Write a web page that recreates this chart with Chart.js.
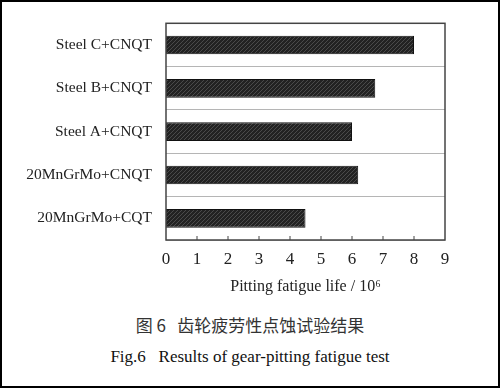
<!DOCTYPE html>
<html>
<head>
<meta charset="utf-8">
<script src="https://cdn.jsdelivr.net/npm/chart.js@4/dist/chart.umd.min.js"></script>
<style>
  html,body{margin:0;padding:0;background:#fff;}
  #frame{position:relative;width:500px;height:388px;box-sizing:border-box;border:2px solid #000;overflow:hidden;}
  #wrap{position:absolute;left:-2px;top:-2px;width:500px;height:300px;}
  .cap{position:absolute;left:0;width:496px;text-align:center;white-space:pre;}
  #cn{top:310px;font-family:"Noto Sans CJK SC",sans-serif;font-size:17px;color:#333;}
  #en{top:345px;font-family:"Liberation Serif","Times New Roman",serif;font-size:17px;color:#111;}
</style>
</head>
<body>
<div id="frame">
  <div id="wrap"><canvas id="c"></canvas></div>
  <div class="cap" id="cn">图 6   齿轮疲劳性点蚀试验结果</div>
  <div class="cap" id="en">Fig.6   Results of gear-pitting fatigue test</div>
</div>
<script>
// ---- data ----
const labels = ['Steel C+CNQT','Steel B+CNQT','Steel A+CNQT','20MnGrMo+CNQT','20MnGrMo+CQT'];
const lifeValues = [8.0, 6.75, 6.0, 6.2, 4.5];
const xTicks = [0,1,2,3,4,5,6,7,8,9];

// hatched dark fill
function hatch(){
  const p = document.createElement('canvas');
  p.width = 4; p.height = 4;
  const g = p.getContext('2d');
  g.fillStyle = '#222'; g.fillRect(0,0,4,4);
  g.strokeStyle = '#4a4a4a'; g.lineWidth = 1;
  g.beginPath(); g.moveTo(0,4); g.lineTo(4,0); g.stroke();
  return g.createPattern(p,'repeat');
}

const frameBox = {
  id:'frameBox',
  afterDraw(chart){
    const {ctx, chartArea:a, scales} = chart;
    ctx.save();
    ctx.strokeStyle = '#444'; ctx.lineWidth = 1.5;
    ctx.strokeRect(a.left, a.top, a.right-a.left, a.bottom-a.top);
    // inward ticks on x axis
    ctx.lineWidth = 1;
    xTicks.forEach(v=>{
      if(v===0 || v===9) return;
      const x = scales.x.getPixelForValue(v);
      ctx.beginPath(); ctx.moveTo(x, a.bottom); ctx.lineTo(x, a.bottom-4); ctx.stroke();
    });
    ctx.restore();
  }
};

const serif = '"Liberation Serif","Times New Roman",serif';
new Chart(document.getElementById('c'), {
  type:'bar',
  data:{ labels, datasets:[{
    data: lifeValues,
    backgroundColor: hatch(),
    borderColor:'#111', borderWidth:1,
    categoryPercentage:1, barPercentage:0.43
  }]},
  options:{
    indexAxis:'y',
    responsive:true, maintainAspectRatio:false, animation:false,
    layout:{ padding:{ top:18, right:55, left:0, bottom:0 } },
    plugins:{ legend:{display:false}, tooltip:{enabled:false} },
    scales:{
      x:{
        min:0, max:9,
        afterBuildTicks(s){ s.ticks = xTicks.map(v=>({value:v})); },
        afterFit(s){ s.height = 60; },
        grid:{ display:false, drawTicks:false },
        border:{ display:false },
        ticks:{ padding:9, color:'#222', font:{family:serif, size:17} },
        title:{ display:true, text:'Pitting fatigue life / 10\u2076', color:'#222',
                font:{family:serif, size:16}, padding:{top:0} }
      },
      y:{
        afterFit(s){ s.width = 166; },
        grid:{ offset:true, color:'#b5b5b5', lineWidth:1, drawTicks:false },
        border:{ display:false },
        ticks:{ padding:14, color:'#222', font:{family:serif, size:15.5} }
      }
    }
  },
  plugins:[frameBox]
});
</script>
</body>
</html>
